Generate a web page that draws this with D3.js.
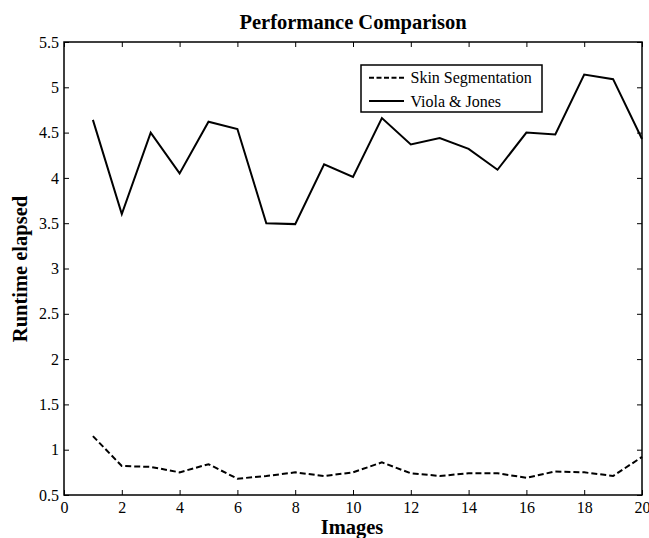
<!DOCTYPE html>
<html>
<head>
<meta charset="utf-8">
<script src="https://cdn.jsdelivr.net/npm/d3@7"></script>
<style>
  body { margin: 0; background: #fff; }
  text { font-family: "Liberation Serif", "Times New Roman", serif; fill: #000; }
</style>
</head>
<body>
<svg id="chart"></svg>
<script>
var width = 649;
var height = 538;

// image index on the x axis
var images = d3.range(1, 21);
// runtimes
var skinSeg = [1.15, 0.82, 0.81, 0.75, 0.84, 0.68, 0.71, 0.75, 0.71, 0.75,
               0.86, 0.74, 0.71, 0.74, 0.74, 0.69, 0.76, 0.75, 0.71, 0.92];
var violaJones = [4.64, 3.60, 4.50, 4.05, 4.62, 4.54, 3.50, 3.49, 4.15, 4.01,
                  4.66, 4.37, 4.44, 4.32, 4.09, 4.50, 4.48, 5.14, 5.09, 4.43];
var xTicks = [0, 2, 4, 6, 8, 10, 12, 14, 16, 18, 20];
var yTicks = [0.5, 1, 1.5, 2, 2.5, 3, 3.5, 4, 4.5, 5, 5.5];
var seriesNames = ["Skin Segmentation", "Viola & Jones"];

var x = d3.scaleLinear().domain([0, 20]).range([64, 642]);
var y = d3.scaleLinear().domain([0.5, 5.5]).range([495, 42]);

var svg = d3.select("#chart")
  .attr("width", width)
  .attr("height", height);

// ticks point inward on all four sides, like matlab
var axBottom = svg.append("g").attr("transform", "translate(0,495)")
  .call(d3.axisBottom(x).tickValues(xTicks).tickSize(-5).tickPadding(7).tickFormat(d3.format("")));
var axLeft = svg.append("g").attr("transform", "translate(64,0)")
  .call(d3.axisLeft(y).tickValues(yTicks).tickSize(-5).tickPadding(5).tickFormat(d3.format("")));
var axTop = svg.append("g").attr("transform", "translate(0,42)")
  .call(d3.axisTop(x).tickValues(xTicks).tickSize(-5).tickFormat(""));
var axRight = svg.append("g").attr("transform", "translate(642,0)")
  .call(d3.axisRight(y).tickValues(yTicks).tickSize(-5).tickFormat(""));

[axBottom, axLeft, axTop, axRight].forEach(function (g) {
  g.select(".domain").remove();
  g.selectAll(".tick line").attr("stroke", "#000").attr("stroke-width", 1);
  g.selectAll(".tick text")
    .style("font-family", "'Liberation Serif', 'Times New Roman', serif")
    .style("font-size", "16px")
    .attr("fill", "#000");
});

// box around the plot
svg.append("rect")
  .attr("x", x(0))
  .attr("y", y(5.5))
  .attr("width", x(20) - x(0))
  .attr("height", y(0.5) - y(5.5))
  .attr("fill", "none")
  .attr("stroke", "#000")
  .attr("stroke-width", 1.5);

var line = d3.line()
  .x(function (d, i) { return x(images[i]); })
  .y(function (d) { return y(d); });

svg.append("path")
  .datum(skinSeg)
  .attr("d", line)
  .attr("fill", "none")
  .attr("stroke", "#000")
  .attr("stroke-width", 2)
  .attr("stroke-dasharray", "6,3");

svg.append("path")
  .datum(violaJones)
  .attr("d", line)
  .attr("fill", "none")
  .attr("stroke", "#000")
  .attr("stroke-width", 2);

// title and axis labels
svg.append("text")
  .attr("x", 353)
  .attr("y", 29)
  .attr("text-anchor", "middle")
  .style("font-size", "20.5px")
  .style("font-weight", "bold")
  .text("Performance Comparison");

svg.append("text")
  .attr("x", 352)
  .attr("y", 534)
  .attr("text-anchor", "middle")
  .style("font-size", "20.5px")
  .style("font-weight", "bold")
  .text("Images");

svg.append("text")
  .attr("transform", "translate(27,269) rotate(-90)")
  .attr("text-anchor", "middle")
  .style("font-size", "20.5px")
  .style("font-weight", "bold")
  .text("Runtime elapsed");

// legend
var legend = svg.append("g").attr("transform", "translate(361,65)");
legend.append("rect")
  .attr("width", 181)
  .attr("height", 47)
  .attr("fill", "#fff")
  .attr("stroke", "#000")
  .attr("stroke-width", 1.5);

seriesNames.forEach(function (name, i) {
  var ly = 12.7 + i * 23.3;
  legend.append("line")
    .attr("x1", 8).attr("x2", 43)
    .attr("y1", ly).attr("y2", ly)
    .attr("stroke", "#000")
    .attr("stroke-width", 2)
    .attr("stroke-dasharray", i == 0 ? "5,2.5" : null);
  legend.append("text")
    .attr("x", 49.5)
    .attr("y", ly + 5.6)
    .style("font-size", "16px")
    .text(name);
});
</script>
</body>
</html>
